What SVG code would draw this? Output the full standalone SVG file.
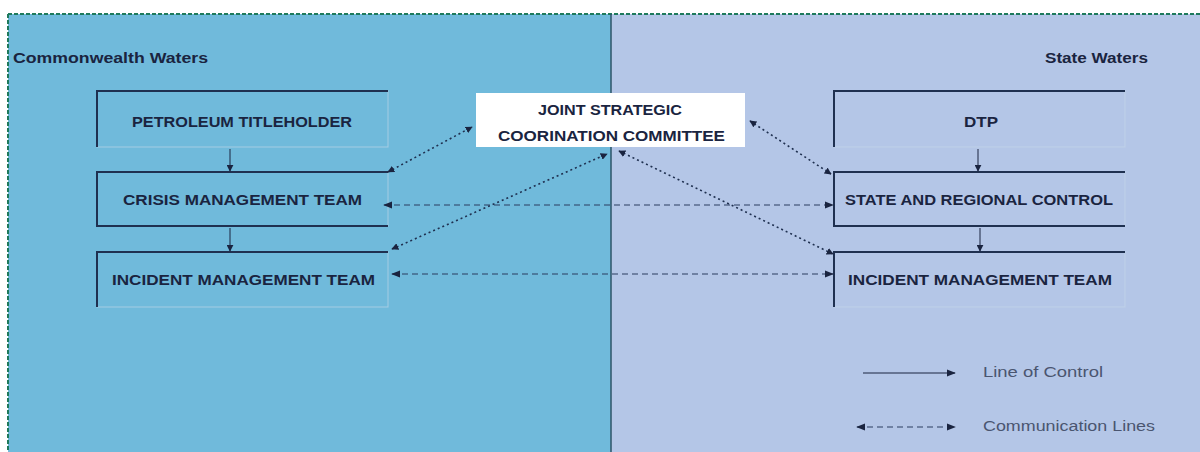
<svg xmlns="http://www.w3.org/2000/svg" width="1200" height="452" viewBox="0 0 1200 452">
<defs>
<marker id="ah" viewBox="0 0 10 10" refX="9" refY="5" markerWidth="7" markerHeight="7" markerUnits="userSpaceOnUse" orient="auto-start-reverse">
<path d="M0,0 L10,5 L0,10 z" fill="#1a2440"/>
</marker>
<marker id="ahl" viewBox="0 0 10 10" refX="9" refY="5" markerWidth="9" markerHeight="9" markerUnits="userSpaceOnUse" orient="auto-start-reverse">
<path d="M0,1 L10,5 L0,9 z" fill="#1a2440"/>
</marker>
</defs>
<style>
.box{fill:none;stroke:#c9d8ea;stroke-width:1;opacity:0.6}
.edge{fill:none;stroke:#1f3050;stroke-width:2}
.lbl{font-family:"Liberation Sans",Arial,sans-serif;font-weight:bold;font-size:14px;fill:#1a2440;text-anchor:middle}
.reg{font-family:"Liberation Sans",Arial,sans-serif;font-weight:bold;font-size:14px;fill:#1a2440}
.leg{font-family:"Liberation Sans",Arial,sans-serif;font-size:14px;fill:#4a5570}
.ctl{fill:none;stroke:#1a2440;stroke-width:1}
.dot{fill:none;stroke:#1f3050;stroke-width:1.6;stroke-dasharray:2 3}
.dash{fill:none;stroke:#2a3d60;stroke-width:1.2;stroke-dasharray:6 4}
</style>
<rect x="0" y="0" width="1200" height="452" fill="#ffffff"/>
<rect x="8" y="14" width="603" height="438" fill="#70badb"/>
<rect x="611" y="14" width="589" height="438" fill="#b4c6e7"/>
<path d="M8,14 H1200 M8,14 V452" fill="none" stroke="#1e7a5c" stroke-width="2" stroke-dasharray="4 2"/>
<line x1="611" y1="14" x2="611" y2="452" stroke="#2d5568" stroke-width="1.5"/>
<text class="reg" x="13" y="63" textLength="195" lengthAdjust="spacingAndGlyphs">Commonwealth Waters</text>
<text class="reg" x="1045" y="63" textLength="103" lengthAdjust="spacingAndGlyphs">State Waters</text>

<g id="petroleum">
<rect class="box" x="97" y="91" width="291" height="56"/>
<path class="edge" d="M97,147 V91 H388"/>
<text class="lbl" x="242" y="127" textLength="220" lengthAdjust="spacingAndGlyphs">PETROLEUM TITLEHOLDER</text>
</g>
<g id="crisis">
<rect class="box" x="97" y="172" width="291" height="54"/>
<path class="edge" d="M388,172 H97 V226 H388"/>
<text class="lbl" x="242.5" y="205" textLength="239" lengthAdjust="spacingAndGlyphs">CRISIS MANAGEMENT TEAM</text>
</g>
<g id="incident-left">
<rect class="box" x="97" y="252" width="291" height="55"/>
<path class="edge" d="M97,307 V252 H388"/>
<text class="lbl" x="243.5" y="285" textLength="263" lengthAdjust="spacingAndGlyphs">INCIDENT MANAGEMENT TEAM</text>
</g>
<g id="jscc">
<rect x="476" y="93" width="269" height="54" fill="#ffffff"/>
<text class="lbl" x="610" y="115" textLength="144" lengthAdjust="spacingAndGlyphs">JOINT STRATEGIC</text>
<text class="lbl" x="611.5" y="141" textLength="227" lengthAdjust="spacingAndGlyphs">COORINATION COMMITTEE</text>
</g>
<g id="dtp">
<rect class="box" x="834" y="91" width="291" height="56"/>
<path class="edge" d="M834,147 V91 H1125"/>
<text class="lbl" x="981" y="127" textLength="34" lengthAdjust="spacingAndGlyphs">DTP</text>
</g>
<g id="state">
<rect class="box" x="834" y="172" width="291" height="54"/>
<path class="edge" d="M1125,172 H834 V226 H1125"/>
<text class="lbl" x="979" y="205" textLength="268" lengthAdjust="spacingAndGlyphs">STATE AND REGIONAL CONTROL</text>
</g>
<g id="incident-right">
<rect class="box" x="834" y="252" width="291" height="55"/>
<path class="edge" d="M834,307 V252 H1125"/>
<text class="lbl" x="980" y="285" textLength="264" lengthAdjust="spacingAndGlyphs">INCIDENT MANAGEMENT TEAM</text>
</g>

<g id="connectors">
<line class="ctl" x1="230" y1="149" x2="230" y2="171" marker-end="url(#ah)"/>
<line class="ctl" x1="230" y1="228" x2="230" y2="251" marker-end="url(#ah)"/>
<line class="ctl" x1="978" y1="149" x2="978" y2="171" marker-end="url(#ah)"/>
<line class="ctl" x1="980" y1="228" x2="980" y2="251" marker-end="url(#ah)"/>
<line class="dot" x1="388" y1="172" x2="472" y2="127" marker-start="url(#ah)" marker-end="url(#ah)"/>
<line class="dot" x1="392" y1="249" x2="607" y2="154" marker-start="url(#ah)" marker-end="url(#ah)"/>
<line class="dot" x1="750" y1="121" x2="831" y2="174" marker-start="url(#ah)" marker-end="url(#ah)"/>
<line class="dot" x1="619" y1="151" x2="833" y2="254" marker-start="url(#ah)" marker-end="url(#ah)"/>
<line class="dash" x1="384" y1="205" x2="833" y2="205" marker-start="url(#ahl)" marker-end="url(#ahl)"/>
<line class="dash" x1="392" y1="274" x2="833" y2="274" marker-start="url(#ahl)" marker-end="url(#ahl)"/>
</g>

<g id="legend">
<line class="ctl" x1="863" y1="373" x2="955" y2="373" stroke="#8090b0" marker-end="url(#ahl)"/>
<text class="leg" x="983" y="377" textLength="120" lengthAdjust="spacingAndGlyphs">Line of Control</text>
<line class="dash" x1="857" y1="427" x2="955" y2="427" marker-start="url(#ahl)" marker-end="url(#ahl)"/>
<text class="leg" x="983" y="431" textLength="172" lengthAdjust="spacingAndGlyphs">Communication Lines</text>
</g>
</svg>
